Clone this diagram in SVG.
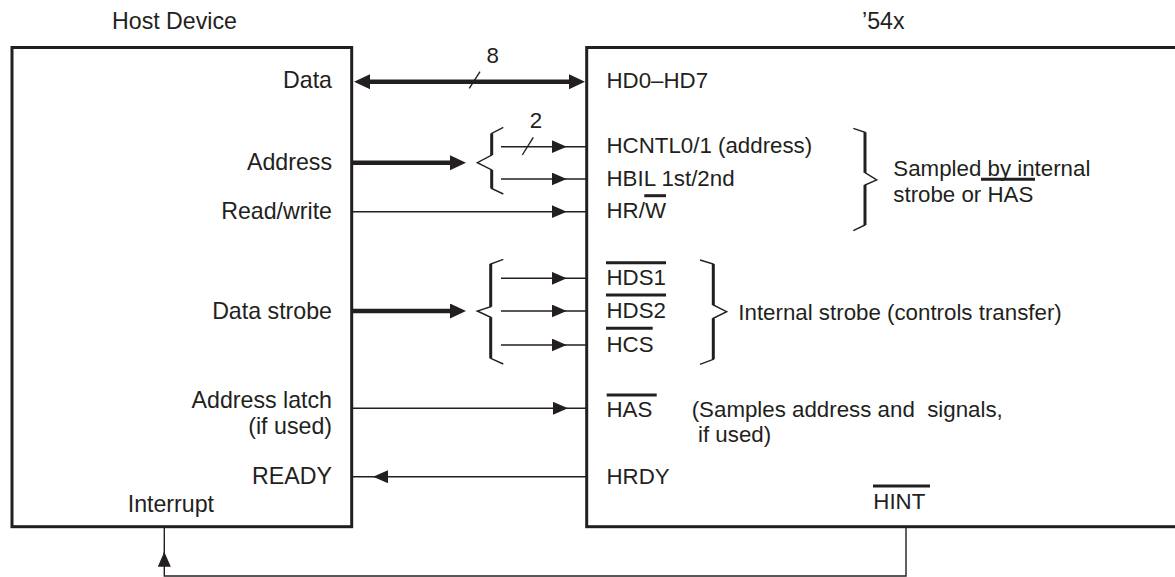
<svg xmlns="http://www.w3.org/2000/svg" width="1175" height="577" viewBox="0 0 1175 577">
<style>
  .box { fill: #fff; stroke: #231f20; stroke-width: 3; }
  .t { font-family: "Liberation Sans", Arial, sans-serif; fill: #231f20; }
  .l { font-size: 23.2px; text-anchor: end; }
  .ls { font-size: 23.2px; }
  .r { font-size: 22.3px; }
  .n { font-size: 22.3px; text-anchor: middle; }
  .ovl { stroke: #231f20; stroke-width: 3; fill: none; }
  .bus { stroke: #231f20; stroke-width: 4.5; fill: none; }
  .sig { stroke: #231f20; stroke-width: 1.4; fill: none; }
  .brace { stroke: #231f20; stroke-width: 1.4; fill: none; stroke-linejoin: miter; }
  .braceV { stroke: #231f20; stroke-width: 3; fill: none; }
</style>
<defs>
  <marker id="ahBus" markerUnits="userSpaceOnUse" markerWidth="17" markerHeight="16" refX="5" refY="7.5" orient="auto-start-reverse">
    <path d="M0,0 L16,7.5 L0,15 z" fill="#231f20"/>
  </marker>
  <marker id="ahSig" markerUnits="userSpaceOnUse" markerWidth="16" markerHeight="14" refX="15" refY="6.5" orient="auto">
    <path d="M0,0 L15,6.5 L0,13 z" fill="#231f20"/>
  </marker>
</defs>

<g id="host">
  <rect class="box" x="12" y="47.5" width="339.7" height="479.2"/>
  <text class="t ls" x="112" y="28.5">Host Device</text>
  <text class="t l" x="332" y="87.5">Data</text>
  <text class="t l" x="332" y="170">Address</text>
  <text class="t l" x="332" y="219">Read/write</text>
  <text class="t l" x="332" y="319">Data strobe</text>
  <text class="t l" x="332" y="408">Address latch</text>
  <text class="t l" x="332" y="434">(if used)</text>
  <text class="t l" x="332" y="484">READY</text>
  <text class="t ls" x="127.7" y="511.5">Interrupt</text>
</g>

<g id="c54x">
  <rect class="box" x="586.7" y="47.5" width="600" height="479.2"/>
  <text class="t ls" x="862" y="29">’54x</text>
  <text class="t r" x="606.5" y="87.5">HD0–HD7</text>
  <text class="t r" x="606.5" y="152.5">HCNTL0/1 (address)</text>
  <text class="t r" x="606.5" y="185.5">HBIL 1st/2nd</text>
  <text class="t r" x="606.5" y="217.5">HR/W</text>
  <line class="ovl" x1="644.3" y1="195.7" x2="666" y2="195.7"/>
  <text class="t r" x="606.5" y="285">HDS1</text>
  <line class="ovl" x1="606" y1="262.7" x2="666" y2="262.7"/>
  <text class="t r" x="606.5" y="318.3">HDS2</text>
  <line class="ovl" x1="606" y1="295" x2="666" y2="295"/>
  <text class="t r" x="606.5" y="351.7">HCS</text>
  <line class="ovl" x1="606" y1="328.3" x2="652.7" y2="328.3"/>
  <text class="t r" x="606.5" y="417">HAS</text>
  <line class="ovl" x1="606.7" y1="395" x2="656.7" y2="395"/>
  <text class="t r" x="691.7" y="417" xml:space="preserve">(Samples address and  signals,</text>
  <text class="t r" x="698" y="442">if used)</text>
  <text class="t r" x="606.5" y="484">HRDY</text>
  <text class="t r" x="873.3" y="509">HINT</text>
  <line class="ovl" x1="873" y1="486" x2="930" y2="486"/>
</g>

<g id="annotations">
  <path class="brace" d="M853.3,128.3 L865,132.3 V172.7 L876.7,180 L865,185 V225 L853.3,230.7"/>
  <path class="braceV" d="M865,132.3 V172.7 M865,185 V225"/>
  <text class="t r" x="893.3" y="176">Sampled by internal</text>
  <text class="t r" x="893.3" y="201.7">strobe or HAS</text>
  <line class="ovl" x1="981" y1="179.3" x2="1035" y2="179.3"/>
  <path class="brace" d="M700,260 L713.3,264 V305 L726.7,311.7 L713.3,318.3 V359.3 L700,364.3"/>
  <path class="braceV" d="M713.3,264 V305 M713.3,318.3 V359.3"/>
  <text class="t r" x="738.3" y="320">Internal strobe (controls transfer)</text>
</g>

<g id="connectors">
  <path class="bus" d="M365,81.7 H574" marker-start="url(#ahBus)" marker-end="url(#ahBus)"/>
  <line class="sig" x1="469.3" y1="88.3" x2="480" y2="71.7"/>
  <text class="t n" x="492.7" y="62.5">8</text>

  <path class="bus" d="M352,162.7 H455" marker-end="url(#ahBus)"/>
  <path class="brace" d="M503.3,127.3 L491.7,133.5 V155 L477.3,162.7 L491.7,170 V188.5 L503.3,194"/>
  <path class="braceV" d="M491.7,133.5 V155 M491.7,170 V188.5"/>
  <path class="sig" d="M501,146.7 H566.7 H586.7" marker-mid="url(#ahSig)"/>
  <line class="sig" x1="522.3" y1="155" x2="533.3" y2="137.3"/>
  <text class="t n" x="536" y="128">2</text>
  <path class="sig" d="M501,179 H566.7 H586.7" marker-mid="url(#ahSig)"/>

  <path class="sig" d="M352,211.7 H566.7 H586.7" marker-mid="url(#ahSig)"/>

  <path class="bus" d="M352,311 H455" marker-end="url(#ahBus)"/>
  <path class="brace" d="M503.3,259.3 L490.7,264 V306.7 L477.3,311 L490.7,317.3 V358.3 L503.3,364"/>
  <path class="braceV" d="M490.7,264 V306.7 M490.7,317.3 V358.3"/>
  <path class="sig" d="M501,278.3 H566.7 H586.7" marker-mid="url(#ahSig)"/>
  <path class="sig" d="M501,311 H566.7 H586.7" marker-mid="url(#ahSig)"/>
  <path class="sig" d="M501,345 H566.7 H586.7" marker-mid="url(#ahSig)"/>

  <path class="sig" d="M352,408.3 H568 H586.7" marker-mid="url(#ahSig)"/>

  <path class="sig" d="M586.7,476.7 H373 H352" marker-mid="url(#ahSig)"/>

  <path class="sig" d="M906,528 V576 H164.3 V528"/>
  <path class="sig" d="M164.3,566 V551.7" marker-end="url(#ahSig)"/>
</g>
</svg>
